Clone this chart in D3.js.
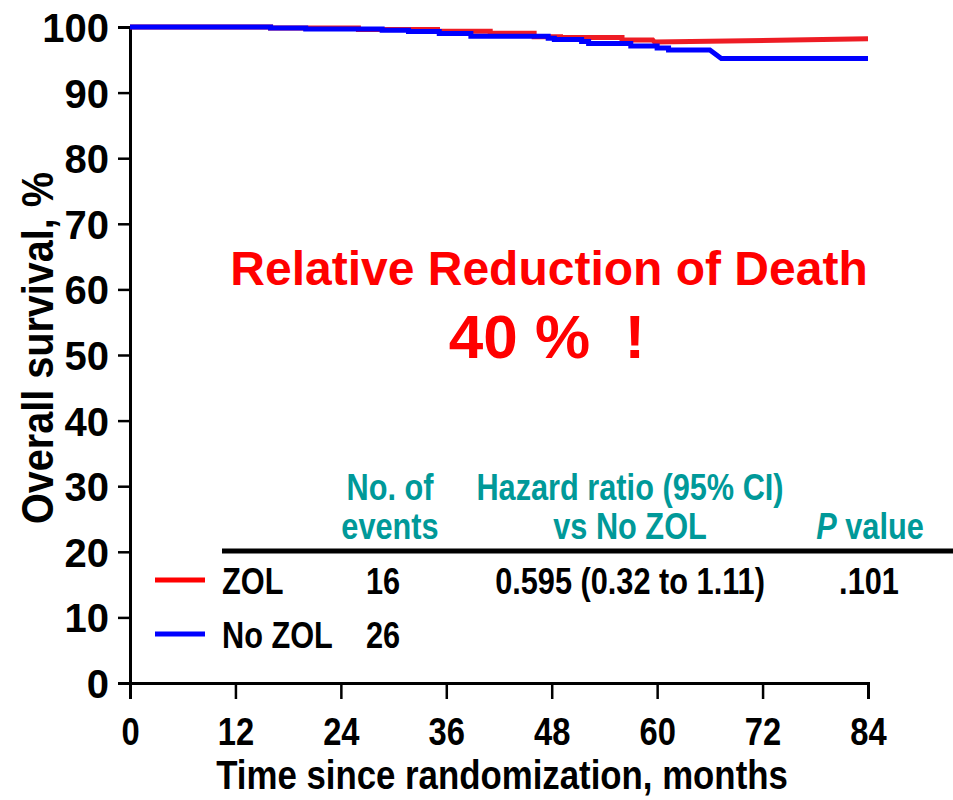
<!DOCTYPE html>
<html>
<head>
<meta charset="utf-8">
<script src="https://cdnjs.cloudflare.com/ajax/libs/d3/7.8.5/d3.min.js"></script>
<style>
  body { margin: 0; background: #fff; }
  text { font-family: "Liberation Sans", Arial, sans-serif; font-weight: bold; }
</style>
</head>
<body>
<svg id="chart" width="953" height="800"></svg>
<script>
// KM curves, [month, survival %]
var zolCurve = [[0,100],[16,100],[16,99.85],[26,99.85],[26,99.6],[35,99.6],[35,99.35],[41,99.35],[41,99.05],
    [46,99.05],[46,98.5],[49,98.5],[49,98.4],[56,98.4],[56,98.0],[59.5,98.0],[59.7,97.7],[84,98.2]];
var noZolCurve = [[0,100],[16,100],[16,99.85],[20,99.85],[20,99.7],[28.7,99.7],[28.7,99.5],[31.7,99.5],[31.7,99.3],
    [35.2,99.3],[35.2,99.0],[38.8,99.0],[38.8,98.6],[47.6,98.6],[47.6,98.3],[48.3,98.3],[48.3,98.1],[51.4,98.1],
    [51.4,97.8],[52.2,97.8],[52.2,97.5],[57,97.5],[57,97.1],[60,97.1],[60,96.8],[61.3,96.8],[61.3,96.5],
    [66,96.5],[67.3,95.2],[84,95.2]];

var xTicks = [0, 12, 24, 36, 48, 60, 72, 84];
var yTicks = [0, 10, 20, 30, 40, 50, 60, 70, 80, 90, 100];

var groups = ["ZOL", "No ZOL"];
var events = ["16", "26"];
var hazard = ["0.595 (0.32 to 1.11)", ""];
var pvals = [".101", ""];

var svg = d3.select("#chart"),
    x = d3.scaleLinear().domain([0, 84]).range([130, 868]),
    y = d3.scaleLinear().domain([0, 100]).range([683, 27]);

var colors = { "ZOL": "#ee1c24", "No ZOL": "#0000ff" },
    legendColors = { "ZOL": "#ff0000", "No ZOL": "#0000ff" },
    teal = "#009999";

// no narrow font installed, so squeeze bold text horizontally
function label(parent, px, py, str, size, sx, anchor, fill) {
    return parent.append("text")
        .attr("transform", "translate(" + px + "," + py + ") scale(" + sx + ",1)")
        .attr("text-anchor", anchor || "start")
        .attr("font-size", size)
        .attr("fill", fill || "#000")
        .text(str);
}

// axes
var yAxis = svg.append("g")
    .attr("transform", "translate(" + x(0) + ",0)")
    .call(d3.axisLeft(y).tickValues(yTicks).tickSize(12).tickPadding(9));
var xAxis = svg.append("g")
    .attr("transform", "translate(0," + y(0) + ")")
    .call(d3.axisBottom(x).tickValues(xTicks).tickSize(16));

[yAxis, xAxis].forEach(function (g) {
    g.select(".domain").attr("stroke", "#000").attr("stroke-width", 3);
    g.selectAll(".tick line").attr("stroke", "#000").attr("stroke-width", 2.5);
});
yAxis.selectAll(".tick text").attr("font-size", 40).attr("fill", "#000")
    .attr("dy", "0.36em");
xAxis.selectAll(".tick text").attr("font-size", 39).attr("fill", "#000")
    .attr("y", 62).attr("dy", 0)
    .attr("transform", "scale(0.84,1)");

// axis titles
label(svg, 0, 0, "Overall survival, %", 45, 0.88, "middle")
    .attr("transform", "translate(53,348) rotate(-90) scale(0.88,1)");
label(svg, 502, 789, "Time since randomization, months", 40, 0.87, "middle");

// survival curves
var line = d3.line()
    .x(function (d) { return x(d[0]); })
    .y(function (d) { return y(d[1]); });

svg.append("path").datum(zolCurve)
    .attr("d", line).attr("fill", "none")
    .attr("stroke", colors["ZOL"]).attr("stroke-width", 5);
svg.append("path").datum(noZolCurve)
    .attr("d", line).attr("fill", "none")
    .attr("stroke", colors["No ZOL"]).attr("stroke-width", 5);

// red annotation
svg.append("text")
    .attr("x", 549).attr("y", 285)
    .attr("text-anchor", "middle").attr("font-size", 48).attr("fill", "#ff0000")
    .text("Relative Reduction of Death");
svg.append("text")
    .attr("x", 547).attr("y", 358)
    .attr("text-anchor", "middle").attr("font-size", 62).attr("fill", "#ff0000")
    .attr("xml:space", "preserve")
    .text("40 %  !");

// table header
var sx = 0.83, fs = 37;
label(svg, 390, 500, "No. of", fs, sx, "middle", teal);
label(svg, 390, 539, "events", fs, sx, "middle", teal);
label(svg, 630, 500, "Hazard ratio (95% CI)", fs, sx, "middle", teal);
label(svg, 630, 539, "vs No ZOL", fs, sx, "middle", teal);
var pv = label(svg, 870, 539, "", fs, sx, "middle", teal);
pv.append("tspan").attr("font-style", "italic").text("P");
pv.append("tspan").text(" value");

svg.append("line")
    .attr("x1", 222).attr("x2", 953).attr("y1", 551).attr("y2", 551)
    .attr("stroke", "#000").attr("stroke-width", 5);

// table rows with legend swatches
var rowY = d3.scalePoint().domain(groups).range([580, 634]);
groups.forEach(function (g, i) {
    var ry = rowY(g);
    svg.append("line")
        .attr("x1", 155).attr("x2", 205).attr("y1", ry).attr("y2", ry)
        .attr("stroke", legendColors[g]).attr("stroke-width", 5);
    label(svg, 222, ry + 14, g, fs, sx, "start");
    label(svg, 383, ry + 14, events[i], fs, sx, "middle");
    label(svg, 630, ry + 14, hazard[i], fs, sx, "middle");
    label(svg, 869, ry + 14, pvals[i], fs, sx, "middle");
});
</script>
</body>
</html>
